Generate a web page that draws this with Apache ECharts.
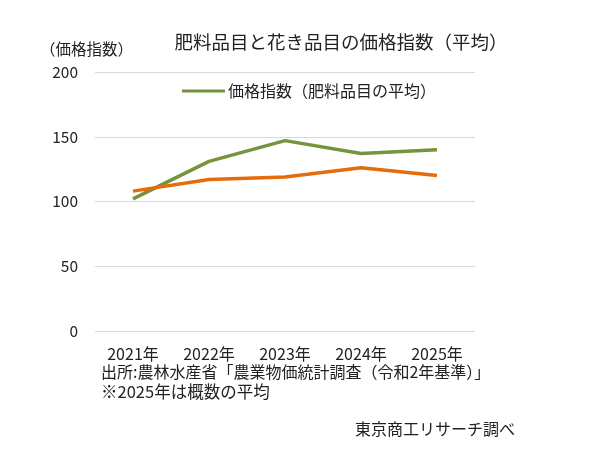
<!DOCTYPE html>
<html>
<head>
<meta charset="utf-8">
<script src="https://cdn.jsdelivr.net/npm/echarts@6/dist/echarts.min.js"></script>
<style>
  html, body { margin: 0; padding: 0; background: #fff; }
  #chart { width: 600px; height: 471px; }
</style>
</head>
<body>
<div id="chart"></div>
<script>
const years = ['2021年', '2022年', '2023年', '2024年', '2025年']
const fertilizer = [102, 131, 147, 137, 140]
const flowers = [108, 117, 119, 126, 120]
const yTicks = { min: 0, max: 200, interval: 50 }

const font = '"Noto Sans CJK JP", "Noto Sans", sans-serif'
const textColor = '#222'

const chart = echarts.init(document.getElementById('chart'))
chart.setOption({
  animation: false,
  textStyle: { fontFamily: font },
  title: {
    text: '肥料品目と花き品目の価格指数（平均）',
    left: 336,
    top: 28,
    textAlign: 'center',
    textStyle: { fontSize: 18.5, fontWeight: 'normal', color: textColor, fontFamily: font },
  },
  legend: {
    data: ['価格指数（肥料品目の平均）'],
    left: 177,
    top: 78,
    itemWidth: 43,
    itemHeight: 3,
    itemGap: 3,
    icon: 'rect',
    textStyle: { fontSize: 16, color: textColor, fontFamily: font, padding: [0, 0, 0, -2] },
  },
  grid: { left: 95, right: 125, top: 72, bottom: 140 },
  xAxis: {
    type: 'category',
    data: years,
    boundaryGap: true,
    axisLine: { show: false },
    axisTick: { show: false },
    axisLabel: { fontSize: 16, color: textColor, margin: 15, fontFamily: font },
  },
  yAxis: {
    type: 'value',
    min: yTicks.min,
    max: yTicks.max,
    interval: yTicks.interval,
    axisLine: { show: false },
    axisTick: { show: false },
    axisLabel: { fontSize: 15.5, color: textColor, margin: 17, fontFamily: font },
    splitLine: { lineStyle: { color: '#d9d9d9', width: 1 } },
  },
  graphic: [
    { type: 'text', left: 40, top: 41, style: { text: '（価格指数）', fontSize: 15.5, fill: textColor, fontFamily: font } },
    { type: 'text', left: 101, top: 364, style: { text: '出所:農林水産省「農業物価統計調査（令和2年基準）」', fontSize: 16, fill: textColor, fontFamily: font } },
    { type: 'text', left: 101, top: 383, style: { text: '※2025年は概数の平均', fontSize: 16.5, fill: textColor, fontFamily: font } },
    { type: 'text', left: 355, top: 421, style: { text: '東京商工リサーチ調べ', fontSize: 16, fill: textColor, fontFamily: font } },
  ],
  series: [
    {
      name: '価格指数（肥料品目の平均）',
      type: 'line',
      data: fertilizer,
      symbol: 'none',
      lineStyle: { color: '#77933c', width: 3.5 },
      itemStyle: { color: '#77933c' },
    },
    {
      name: '価格指数（花き品目の平均）',
      type: 'line',
      data: flowers,
      symbol: 'none',
      lineStyle: { color: '#e46c0a', width: 3.5 },
      itemStyle: { color: '#e46c0a' },
    },
  ],
})
</script>
</body>
</html>
